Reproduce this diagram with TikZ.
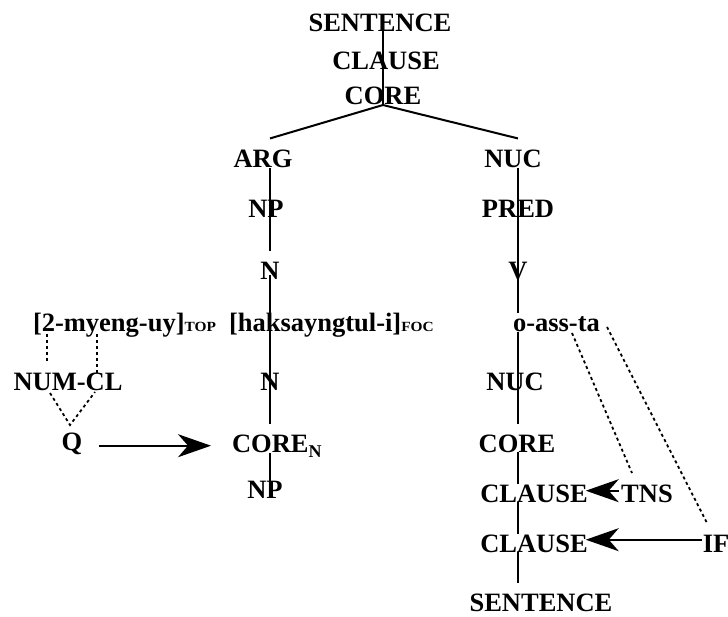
\documentclass[tikz,border=0pt]{standalone}
\usepackage{fontspec}
\setmainfont{Liberation Serif}
\usetikzlibrary{arrows.meta,calc}
\newcommand{\subsc}[1]{{\fontsize{14}{15}\selectfont\scalebox{1.1}[1]{#1}}}
\newcommand{\subN}[1]{\raisebox{-5pt}{\fontsize{18}{19}\selectfont #1}}
\begin{document}
\begin{tikzpicture}[x=1pt,y=-1pt,
  every node/.style={inner sep=0pt, outer sep=0pt, font=\fontsize{26.5}{30}\selectfont\bfseries},
  lab/.style={anchor=base},
  labw/.style={anchor=base west},
  tree/.style={line width=2pt},
  dotline/.style={line width=1.8pt, dash pattern=on 3pt off 3pt},
  bigarrow/.style={line width=2pt, -{Stealth[length=33pt,width=23pt,inset=10pt]}}]
\useasboundingbox (0,0) rectangle (728,617);
\fill[white] (0,0) rectangle (728,617);

% top chain
\node[lab] (S0) at (380,32) {SENTENCE};
\node[lab] (C0) at (386,70) {CLAUSE};
\node[lab] (K0) at (383,105) {CORE};

% columns
\coordinate (L) at (270,0);
\coordinate (R) at (518,0);

\node[lab] (arg) at (263,168) {ARG};
\node[lab] (nuc) at (513,168) {NUC};
\node[lab] (np1) at (266,218) {NP};
\node[lab] (pred) at (518,218) {PRED};
\node[lab] (n1) at (270,280) {N};
\node[lab] (v) at (518,280) {V};
\node[labw] (top) at (33,332) {[2-myeng-uy]\subsc{TOP}};
\node[labw] (foc) at (229,332) {[haksayngtul-i]\subsc{FOC}};
\node[labw] (oass) at (513,332) {o-ass-ta};
\node[lab] (numcl) at (68,390) {NUM-CL};
\node[lab] (n2) at (270,390) {N};
\node[lab] (nuc2) at (515,390) {NUC};
\node[lab] (q) at (72,450) {Q};
\node[labw] (coren) at (232,452) {CORE\subN{N}};
\node[lab] (core2) at (517,452) {CORE};
\node[lab] (np2) at (265,498) {NP};
\node[lab] (cl1) at (534,502) {CLAUSE};
\node[lab] (tns) at (647,502) {TNS};
\node[lab] (cl2) at (534,552) {CLAUSE};
\node[lab] (if) at (716,552) {IF};
\node[lab] (s2) at (541,611) {SENTENCE};

% end points of the two branches under CORE
\coordinate (argtop) at ($(arg.north -| L)+(0,-12)$);
\coordinate (nuctop) at ($(nuc.north -| R)+(0,-12)$);

% tree lines
\draw[tree] ([yshift=3pt]S0.base -| K0.base) -- (K0.base);
\draw[tree] (K0.base) -- (argtop);
\draw[tree] (K0.base) -- (nuctop);

\draw[tree, shorten >=12pt] (arg.base -| L) -- (n1.north -| L);
\draw[tree, shorten >=10pt] ([yshift=5pt]n1.base -| L) -- (coren.north -| L);
\draw[tree] ([yshift=-1pt]coren.base -| L) -- (np2.north -| L);

\draw[tree, shorten >=4pt] (nuc.base -| R) -- (oass.north -| R);
\draw[tree, shorten >=10pt] (oass.base -| R) -- (core2.north -| R);
\draw[tree] (core2.base -| R) -- (cl1.north -| R);
\draw[tree] (cl1.base -| R) -- (cl2.north -| R);
\draw[tree, shorten >=10pt] (cl2.base -| R) -- (s2.north -| R);

% dotted links
\coordinate (d1a) at (47,334);  \coordinate (d1b) at (47,363);
\coordinate (d2a) at (97,334);  \coordinate (d2b) at (97,373);
\coordinate (d3a) at (50,393);  \coordinate (d4a) at (95,392);
\coordinate (qtop) at (70,425);
\draw[dotline] (d1a) -- (d1b);
\draw[dotline] (d2a) -- (d2b);
\draw[dotline] (d3a) -- (qtop) -- (d4a);
\coordinate (d5a) at (572,333); \coordinate (d5b) at (632,473);
\coordinate (d6a) at (607,327); \coordinate (d6b) at (707,523);
\draw[dotline] (d5a) -- (d5b);
\draw[dotline] (d6a) -- (d6b);

% arrows
\draw[bigarrow] ([xshift=17pt,yshift=2pt]q.mid east) -- ([xshift=-21pt,yshift=2pt]q.mid east -| coren.west);
\draw[bigarrow] ([xshift=-2pt,yshift=9pt]tns.mid west) -- ([xshift=-2pt,yshift=9pt]tns.mid west -| cl1.east);
\draw[bigarrow] ([xshift=-1pt,yshift=10pt]if.mid west) -- ([xshift=-2pt,yshift=10pt]if.mid west -| cl2.east);
\end{tikzpicture}
\end{document}
